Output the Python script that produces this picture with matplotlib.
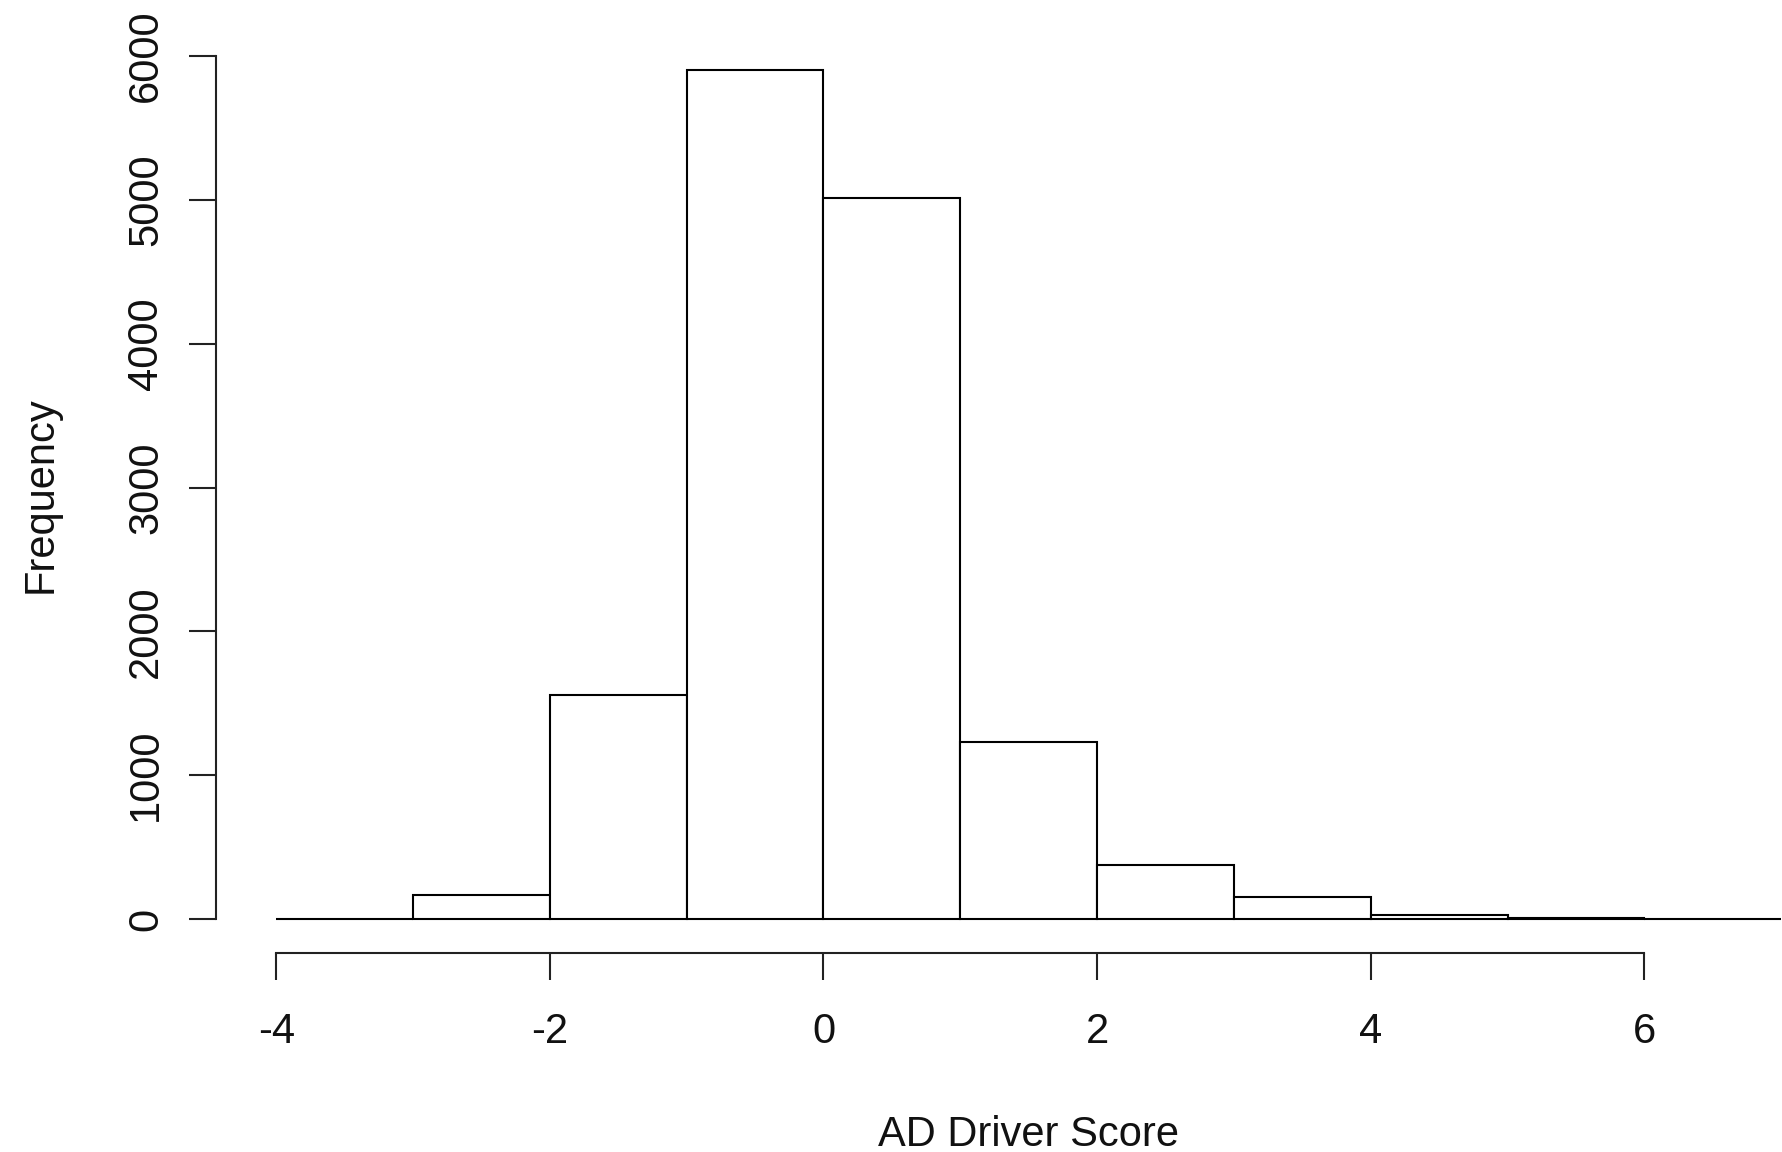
import matplotlib
matplotlib.use("Agg")
import matplotlib.pyplot as plt
import numpy as np

# Data (histogram of AD Driver Score)
bin_edges = [-4, -3, -2, -1, 0, 1, 2, 3, 4, 5, 6, 7]
counts = [3, 167, 1557, 5903, 5011, 1233, 375, 151, 25, 6, 2]
x_ticks = [-4, -2, 0, 2, 4, 6]
y_ticks = [0, 1000, 2000, 3000, 4000, 5000, 6000]
x_label = "AD Driver Score"
y_label = "Frequency"

plt.rcParams['font.family'] = ['Liberation Sans', 'DejaVu Sans']

W, H = 1783, 1152
fig = plt.figure(figsize=(W / 100, H / 100), dpi=100)
ax = fig.add_axes([216.1 / W, (H - 953) / H, 1625.2 / W, (953 - 36) / H])

edges = np.array(bin_edges, dtype=float)
ax.bar(edges[:-1], counts, width=np.diff(edges), align='edge',
       facecolor='white', edgecolor='black', linewidth=1.5)

ymax = max(counts)
ax.set_xlim(-4.44, 7.44)
ax.set_ylim(-0.04 * ymax, ymax * 1.04)

for s in ['top', 'right']:
    ax.spines[s].set_visible(False)
for s in ['left', 'bottom']:
    ax.spines[s].set_linewidth(1.5)
    ax.spines[s].set_color('#222222')
ax.spines['left'].set_bounds(y_ticks[0], y_ticks[-1])
ax.spines['bottom'].set_bounds(x_ticks[0], x_ticks[-1])

ax.set_xticks(x_ticks)
ax.set_xticklabels([f"{t:d}" for t in x_ticks])
ax.set_yticks(y_ticks)
ax.set_yticklabels([f"{t:d}" for t in y_ticks], rotation=90, va='center')

ax.tick_params(axis='both', length=19.4, width=1.5, color='#222222',
               labelsize=30, labelcolor='#111111')
ax.tick_params(axis='x', pad=23)
ax.tick_params(axis='y', pad=16.5)

ax.set_xlabel(x_label, fontsize=30, color='#111111')
ax.xaxis.label.set_va('top')
ax.xaxis.set_label_coords(0.5, -(1115 - 953) / 917)
ax.set_ylabel(y_label, fontsize=30, color='#111111')
ax.yaxis.label.set_va('center')
ax.yaxis.set_label_coords((41 - 216.1) / 1625.2, 0.5)

fig.savefig("out.png", dpi=100)
